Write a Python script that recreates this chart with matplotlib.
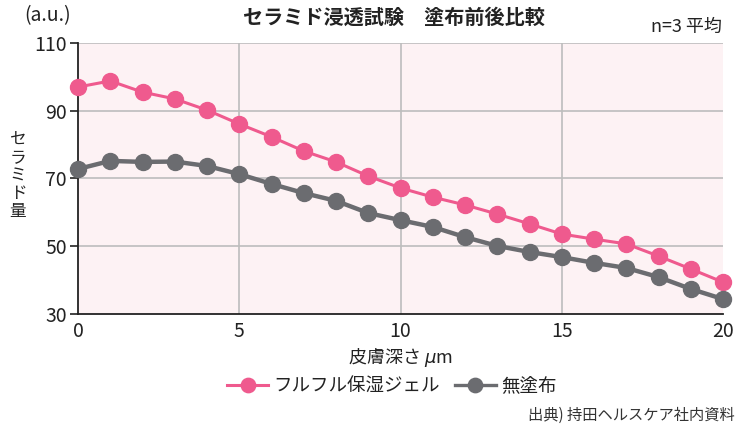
import numpy as np
import matplotlib
matplotlib.use("Agg")
import matplotlib.pyplot as plt

plt.rcParams['font.family'] = ['Noto Sans CJK JP', 'DejaVu Sans']

# データ
depth = list(range(0, 21))
gel = [97.0, 98.8, 95.5, 93.5, 90.2, 86.1, 82.3, 78.1, 74.9, 70.7, 67.2,
       64.5, 62.2, 59.5, 56.6, 53.6, 52.1, 50.7, 47.1, 43.3, 39.4]
none = [72.8, 75.2, 74.9, 75.0, 73.7, 71.3, 68.4, 65.7, 63.4, 59.8, 57.7,
        55.7, 52.7, 50.1, 48.3, 46.8, 45.1, 43.6, 40.9, 37.4, 34.4]
yticks = [30, 50, 70, 90, 110]
xticks = [0, 5, 10, 15, 20]

pink = '#ef5a8e'
gray = '#6b6c70'
grid_c = '#bdbdbd'

fig = plt.figure(figsize=(7.37, 4.36), dpi=100)
ax = fig.add_axes([78 / 737, 1 - 314 / 436, (723 - 78) / 737, (314 - 43) / 436])
ax.set_facecolor('#fdf2f4')

ax.set_xlim(0, 20)
ax.set_ylim(30, 110)
ax.set_yticks(yticks)
ax.set_xticks(xticks)
for y in yticks[1:]:
    ax.axhline(y, color=grid_c, lw=1.2, zorder=1)
for x in xticks[1:-1]:
    ax.axvline(x, color=grid_c, lw=1.2, zorder=1)

ax.plot(depth, gel, color=pink, lw=2.2, marker='o', ms=11.5, zorder=3,
        label='フルフル保湿ジェル', clip_on=False)
ax.plot(depth, none, color=gray, lw=3.2, marker='o', ms=11.5, zorder=3,
        label='無塗布', clip_on=False)

for s in ['top', 'right']:
    ax.spines[s].set_visible(False)
for s in ['left', 'bottom']:
    ax.spines[s].set_color('#222222')
    ax.spines[s].set_linewidth(1.3)
ax.tick_params(axis='y', length=6, width=1.2, color='#222222', labelsize=14, pad=2)
ax.tick_params(axis='x', length=0, labelsize=14, pad=5)
for lab in ax.get_xticklabels() + ax.get_yticklabels():
    lab.set_color('#222222')

ax.set_xlabel('皮膚深さ $\\mu$m', fontsize=13, color='#222222', labelpad=3)

fig.text(18 / 737, 1 - 176 / 436, 'セ\nラ\nミ\nド\n量', ha='center', va='center',
         fontsize=12, linespacing=1.05, color='#222222')
fig.text(48 / 737, 1 - 16 / 436, '(a.u.)', ha='center', va='center',
         fontsize=14, color='#222222')
fig.text(394 / 737, 1 - 17 / 436, 'セラミド浸透試験　塗布前後比較', ha='center',
         va='center', fontsize=14.5, fontweight='bold', color='#222222')
fig.text(722 / 737, 1 - 27 / 436, 'n=3 平均', ha='right', va='center',
         fontsize=13, color='#222222')
fig.text(735 / 737, 1 - 415 / 436, '出典) 持田ヘルスケア社内資料', ha='right',
         va='center', fontsize=11, color='#333333')

leg = fig.legend(loc='center', bbox_to_anchor=(392 / 737, 1 - 386 / 436), ncol=2,
                 frameon=False, fontsize=13.3, handlelength=2.2, handletextpad=0.3,
                 columnspacing=0.8, markerscale=0.9)
for t in leg.get_texts():
    t.set_color('#222222')
leg.get_lines()[1].set_linewidth(2.4)

fig.savefig('out.png', dpi=100)
